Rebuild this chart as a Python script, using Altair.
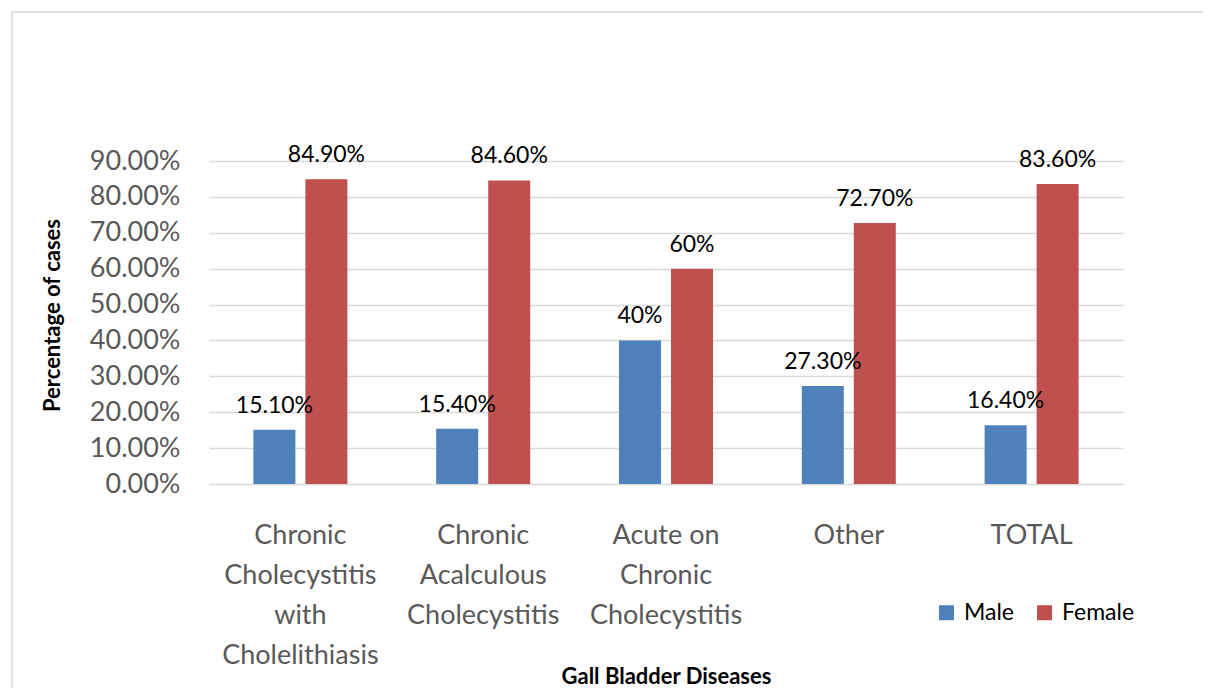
import altair as alt
import pandas as pd

categories = [
    "Chronic\nCholecystitis\nwith\nCholelithiasis",
    "Chronic\nAcalculous\nCholecystitis",
    "Acute on\nChronic\nCholecystitis",
    "Other",
    "TOTAL",
]
male = [0.151, 0.154, 0.40, 0.273, 0.164]
female = [0.849, 0.846, 0.60, 0.727, 0.836]
male_labels = ["15.10%", "15.40%", "40%", "27.30%", "16.40%"]
female_labels = ["84.90%", "84.60%", "60%", "72.70%", "83.60%"]
series = ["Male", "Female"]
colors = ["#4F81BD", "#C0504D"]
y_ticks = [0, 0.1, 0.2, 0.3, 0.4, 0.5, 0.6, 0.7, 0.8, 0.9]

rows = []
for c, m, f, ml, fl in zip(categories, male, female, male_labels, female_labels):
    rows.append({"cat": c, "sex": "Male", "value": m, "label": ml})
    rows.append({"cat": c, "sex": "Female", "value": f, "label": fl})
df = pd.DataFrame(rows)

FONT = "Lato"

x_axis = alt.Axis(
    title="Gall Bladder Diseases",
    labelExpr="split(datum.label, '\\n')",
    labelAngle=0,
    labelAlign="center",
    labelBaseline="top",
    labelFontSize=27,
    labelColor="#595959",
    labelLineHeight=40,
    labelPadding=38,
    labelLimit=0,
    labelOverlap=False,
    ticks=False,
    tickSize=0,
    domain=False,
    grid=False,
    titleFontSize=22,
    titleFontWeight="bold",
    titleColor="#000000",
    titleBaseline="middle",
    titleY=192,
)
y_axis = alt.Axis(
    title="Percentage of cases",
    values=y_ticks,
    tickCount=10,
    format=".2%",
    labelFontSize=27,
    labelColor="#595959",
    labelPadding=29,
    labelOverlap=False,
    ticks=False,
    tickSize=0,
    domain=False,
    grid=True,
    gridColor="#d9d9d9",
    gridWidth=1.5,
    titleFontSize=22,
    titleFontWeight="bold",
    titleColor="#000000",
    titleX=-157,
    titleY=154,
    titleAlign="center",
    titleBaseline="middle",
    titleAngle=270,
)

x_scale = alt.Scale(paddingInner=0, paddingOuter=0)
xoff_scale = alt.Scale(paddingInner=0.1923, paddingOuter=0.8537)
y_scale = alt.Scale(domain=[0, 0.9], nice=False)

frame = alt.Data(values=[{"k": 1}])
top_line = (
    alt.Chart(frame)
    .mark_rect(fill="#d9d9d9", strokeWidth=0)
    .encode(x=alt.value(-197.75), x2=alt.value(994), y=alt.value(-149.75), y2=alt.value(-148.25))
)
left_line = (
    alt.Chart(frame)
    .mark_rule(stroke="#d9d9d9", strokeWidth=1.5)
    .encode(x=alt.value(-197), x2=alt.value(-197), y=alt.value(-149), y2=alt.value(540))
)

bars = (
    alt.Chart(df)
    .mark_bar()
    .encode(
        x=alt.X("cat:N", sort=categories, scale=x_scale, axis=x_axis),
        xOffset=alt.XOffset("sex:N", sort=series, scale=xoff_scale),
        y=alt.Y("value:Q", scale=y_scale, axis=y_axis),
        color=alt.Color(
            "sex:N",
            sort=series,
            scale=alt.Scale(domain=series, range=colors),
            legend=alt.Legend(
                title=None,
                orient="none",
                legendX=726,
                legendY=440,
                direction="horizontal",
                symbolType="square",
                symbolSize=225,
                symbolStrokeWidth=0,
                labelFontSize=23,
                labelColor="#000000",
                labelOffset=6,
                columnPadding=18,
                padding=0,
            ),
        ),
    )
)

texts = (
    alt.Chart(df)
    .mark_text(baseline="middle", align="center", dy=-24, fontSize=23, color="#000000")
    .encode(
        x=alt.X("cat:N", sort=categories, scale=x_scale, axis=x_axis),
        xOffset=alt.XOffset("sex:N", sort=series, scale=xoff_scale),
        y=alt.Y("value:Q", scale=y_scale, axis=y_axis),
        text="label:N",
    )
)

chart = (
    alt.layer(top_line, left_line, bars, texts)
    .properties(
        width=914,
        height=323,
        autosize=alt.AutoSizeParams(type="none"),
        padding={"left": 201, "top": 153, "right": 81, "bottom": 204},
    )
    .configure(font=FONT)
    .configure_view(stroke=None)
    .configure_text(font=FONT)
)

chart.save("out.html", embed_options={"renderer": "svg", "actions": False})
